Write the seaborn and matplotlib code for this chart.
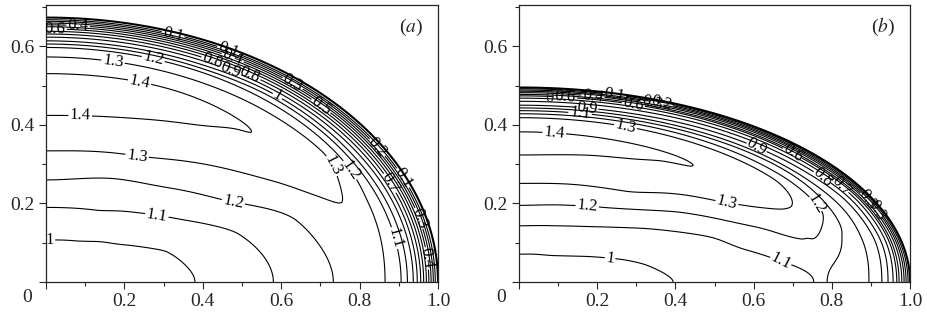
"""Velocity contours in a quarter-ellipse section, panels (a) and (b)."""

import matplotlib

matplotlib.use("Agg")
import matplotlib.pyplot as plt
import numpy as np
import seaborn as sns

# contour levels drawn in both panels (0 is the wall itself)
LEVELS = [0.1, 0.2, 0.3, 0.4, 0.5, 0.6, 0.7, 0.8, 0.9, 1.0, 1.1, 1.2, 1.3, 1.4]
WALL_LEVELS = [0.8, 0.7, 0.6, 0.5, 0.4, 0.3, 0.2, 0.1, 0.0]

# panel (a): semi-axis b, values read along rays (angle in degrees, rho = normalised radius)
A_B = 0.673
A_PHI = [0, 20, 35, 50, 65, 90]
A_RHO = {
    0: [0, 0.38, 0.58, 0.733, 0.80, 0.865, 0.906, 0.922, 0.937],
    20: [0, 0.33, 0.525, 0.68, 0.81, 0.875, 0.905, 0.92, 0.935],
    35: [0, 0.245, 0.415, 0.545, 0.681, 0.78, 0.86, 0.887, 0.905, 0.918, 0.932],
    50: [0, 0.2, 0.345, 0.469, 0.59, 0.755, 0.77, 0.785, 0.855, 0.887, 0.905, 0.918, 0.93],
    65: [0, 0.172, 0.30, 0.43, 0.528, 0.675, 0.74, 0.795, 0.852, 0.887, 0.90, 0.913, 0.927],
    90: [0, 0.159, 0.282, 0.386, 0.496, 0.63, 0.71, 0.788, 0.851, 0.887, 0.90, 0.912, 0.926],
}
A_VAL = {
    0: [0.95, 1.0, 1.1, 1.2, 1.26, 1.2, 1.1, 1.0, 0.9],
    20: [0.95, 1.0, 1.1, 1.2, 1.295, 1.2, 1.1, 1.0, 0.9],
    35: [0.95, 1.0, 1.1, 1.2, 1.3, 1.36, 1.3, 1.2, 1.1, 1.0, 0.9],
    50: [0.95, 1.0, 1.1, 1.2, 1.3, 1.4, 1.405, 1.4, 1.3, 1.2, 1.1, 1.0, 0.9],
    65: [0.95, 1.0, 1.1, 1.2, 1.3, 1.4, 1.43, 1.4, 1.3, 1.2, 1.1, 1.0, 0.9],
    90: [0.95, 1.0, 1.1, 1.2, 1.3, 1.4, 1.45, 1.4, 1.3, 1.2, 1.1, 1.0, 0.9],
}
A_WALL = [0.84, 0.70, 0.58, 0.47, 0.37, 0.28, 0.19, 0.11, 0.0]
A_LABELS = [(0.023, 0.642), (0.082, 0.65), (0.325, 0.634), (0.469, 0.60), (0.426, 0.566),
            (0.477, 0.573), (0.469, 0.535), (0.52, 0.527), (0.63, 0.507), (0.70, 0.446),
            (0.589, 0.471), (0.273, 0.566), (0.171, 0.56), (0.24, 0.515), (0.087, 0.418),
            (0.232, 0.319), (0.477, 0.20), (0.283, 0.171), (0.725, 0.293), (0.776, 0.285),
            (0.847, 0.344), (0.916, 0.268), (0.878, 0.252), (0.954, 0.163), (0.97, 0.06),
            (0.89, 0.112), (0.01, 0.10)]

# panel (b)
B_B = 0.495
B_PHI = [0, 15, 25, 40, 60, 75, 90]
B_RHO = {
    0: [0, 0.394, 0.754, 0.771, 0.788, 0.895, 0.928],
    15: [0, 0.337, 0.613, 0.78, 0.855, 0.905, 0.935],
    25: [0, 0.28, 0.543, 0.669, 0.79, 0.855, 0.88, 0.91, 0.935],
    40: [0, 0.206, 0.427, 0.553, 0.653, 0.77, 0.84, 0.866, 0.89, 0.905, 0.925],
    60: [0, 0.158, 0.33, 0.442, 0.54, 0.72, 0.74, 0.765, 0.843, 0.866, 0.885, 0.90, 0.918],
    75: [0, 0.148, 0.30, 0.41, 0.52, 0.675, 0.72, 0.77, 0.845, 0.866, 0.882, 0.897, 0.912],
    90: [0, 0.143, 0.289, 0.394, 0.507, 0.653, 0.71, 0.772, 0.845, 0.865, 0.881, 0.895, 0.909],
}
B_VAL = {
    0: [0.965, 1.0, 1.1, 1.15, 1.1, 1.0, 0.9],
    15: [0.965, 1.0, 1.1, 1.19, 1.1, 1.0, 0.9],
    25: [0.965, 1.0, 1.1, 1.2, 1.27, 1.2, 1.1, 1.0, 0.9],
    40: [0.965, 1.0, 1.1, 1.2, 1.3, 1.37, 1.3, 1.2, 1.1, 1.0, 0.9],
    60: [0.965, 1.0, 1.1, 1.2, 1.3, 1.4, 1.41, 1.4, 1.3, 1.2, 1.1, 1.0, 0.9],
    75: [0.965, 1.0, 1.1, 1.2, 1.3, 1.4, 1.43, 1.4, 1.3, 1.2, 1.1, 1.0, 0.9],
    90: [0.965, 1.0, 1.1, 1.2, 1.3, 1.4, 1.44, 1.4, 1.3, 1.2, 1.1, 1.0, 0.9],
}
B_WALL = [0.78, 0.60, 0.47, 0.39, 0.29, 0.21, 0.14, 0.07, 0.0]
B_LABELS = [(0.118, 0.469), (0.189, 0.471), (0.174, 0.446), (0.246, 0.484),
            (0.292, 0.451), (0.34, 0.456), (0.365, 0.456), (0.156, 0.428), (0.271, 0.392),
            (0.09, 0.379), (0.609, 0.344), (0.70, 0.328), (0.778, 0.268), (0.82, 0.242),
            (0.89, 0.209), (0.915, 0.183), (0.762, 0.20), (0.531, 0.20), (0.174, 0.188),
            (0.233, 0.061), (0.662, 0.043)]


def pchip_rows(x, v, xf):
    """Monotone cubic interpolation of the rows of v (shape n_pts x n_cols) along x."""
    x = np.asarray(x, float)
    h = np.diff(x)
    d = np.diff(v, axis=0) / h[:, None]
    m = np.zeros_like(v)  # zero slope at both ends
    for i in range(1, len(x) - 1):
        w1 = 2 * h[i] + h[i - 1]
        w2 = h[i] + 2 * h[i - 1]
        same = d[i - 1] * d[i] > 0
        with np.errstate(divide="ignore", invalid="ignore"):
            mi = (w1 + w2) / (w1 / d[i - 1] + w2 / d[i])
        m[i] = np.where(same, mi, 0.0)
    idx = np.clip(np.searchsorted(x, xf, side="right") - 1, 0, len(x) - 2)
    t = ((xf - x[idx]) / h[idx])[:, None]
    hh = h[idx][:, None]
    h00 = 2 * t**3 - 3 * t**2 + 1
    h10 = t**3 - 2 * t**2 + t
    h01 = -2 * t**3 + 3 * t**2
    h11 = t**3 - t**2
    return h00 * v[idx] + h10 * hh * m[idx] + h01 * v[idx + 1] + h11 * hh * m[idx + 1]


def build_field(phis, rhos, vals, wall, b):
    rho = np.linspace(0, 1.03, 421)
    phi = np.linspace(0, 90, 181)
    prof = []
    for p in phis:
        r = list(rhos[p])
        v = list(vals[p])
        d9 = 1 - r[-1]
        r += [1 - d9 * f for f in wall] + [1.03]
        v += WALL_LEVELS + [-0.3]
        prof.append(pchip_rows(r, np.array(v)[:, None], rho)[:, 0])
    field = pchip_rows(phis, np.array(prof), phi).T  # (n_rho, n_phi)
    R, P = np.meshgrid(rho, np.radians(phi), indexing="ij")
    return R * np.cos(P), b * R * np.sin(P), field


def draw_panel(ax, field, labels, tag):
    X, Y, F = field
    ax.contour(X, Y, F, levels=[0.0], colors="black", linewidths=1.5)
    cs = ax.contour(X, Y, F, levels=LEVELS, colors="black", linewidths=0.8)
    ax.clabel(cs, fmt="%g", fontsize=12, inline=True, inline_spacing=1, manual=labels)
    ax.set_xlim(0, 1)
    ax.set_ylim(0, 0.705)
    ax.set_xticks([0, 0.2, 0.4, 0.6, 0.8, 1.0])
    ax.set_xticklabels(["", "0.2", "0.4", "0.6", "0.8", "1.0"])
    ax.set_xticks([0.1, 0.3, 0.5, 0.7, 0.9], minor=True)
    ax.set_yticks([0, 0.2, 0.4, 0.6])
    ax.set_yticklabels(["", "0.2", "0.4", "0.6"])
    ax.set_yticks([0.1, 0.3, 0.5, 0.7], minor=True)
    ax.tick_params(which="major", direction="out", length=5, width=0.8, labelsize=14, pad=3)
    ax.tick_params(which="minor", direction="out", length=3, width=0.8)
    for sp in ax.spines.values():
        sp.set_visible(True)
        sp.set_linewidth(0.9)
    ax.text(0.93, 0.92, "(" + r"$\it{" + tag + "}$" + ")", transform=ax.transAxes,
            ha="center", va="center", fontsize=14)


def main() -> None:
    sns.set_theme(style="ticks")
    plt.rcParams["font.family"] = ["Liberation Serif", "DejaVu Serif"]
    plt.rcParams["mathtext.fontset"] = "stix"

    fig = plt.figure(figsize=(9.28, 3.2), dpi=100)
    ax_a = fig.add_axes([46 / 928, 38 / 320, 392 / 928, 277 / 320])
    ax_b = fig.add_axes([519 / 928, 38 / 320, 391 / 928, 277 / 320])

    draw_panel(ax_a, build_field(A_PHI, A_RHO, A_VAL, A_WALL, A_B), A_LABELS, "a")
    draw_panel(ax_b, build_field(B_PHI, B_RHO, B_VAL, B_WALL, B_B), B_LABELS, "b")
    # panel (b) also carries a "0" label at the wall
    ax_b.text(0.079, 0.469, "0", fontsize=12, ha="center", va="center")

    # the shared corner zero under each panel
    fig.text(27 / 928, 1 - 297 / 320, "0", ha="center", va="center", fontsize=14)
    fig.text(501 / 928, 1 - 297 / 320, "0", ha="center", va="center", fontsize=14)

    fig.savefig("out.png", dpi=100)
    plt.close(fig)


if __name__ == "__main__":
    main()
